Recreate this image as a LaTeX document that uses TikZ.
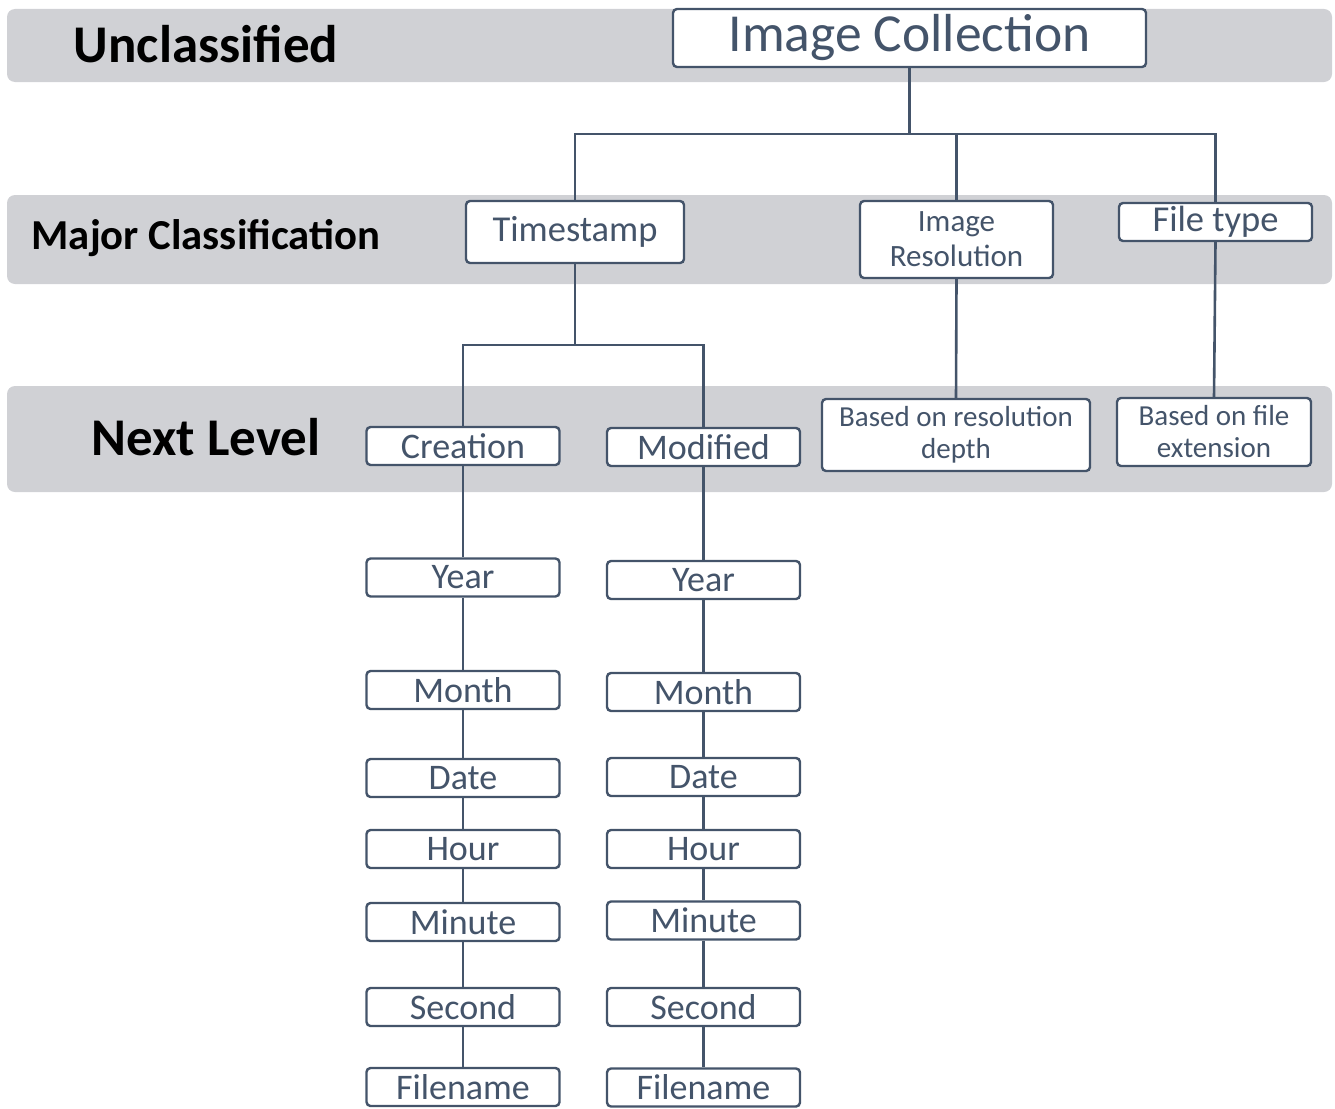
\documentclass[tikz,border=0pt]{standalone}
\usepackage{fontspec}
\setmainfont{Carlito}
\definecolor{band}{RGB}{208,209,213}
\definecolor{ink}{RGB}{68,84,106}
\begin{document}
\begin{tikzpicture}[x=1pt,y=-1pt,
  bandbox/.style={fill=band,draw=none,rounded corners=8pt},
  title/.style={font=\bfseries\fontsize{#1}{#1}\selectfont,text=black,inner sep=0pt},
  cbox/.style={draw=ink,line width=2.4pt,fill=white,rounded corners=4pt,text=ink,inner sep=0pt,align=center},
  conn/.style={draw=ink,line width=2.6pt}
]
\useasboundingbox (0,0) rectangle (1335,1108);
% bands
\fill[bandbox] (7,9) rectangle (1332,82);
\fill[bandbox] (7,195) rectangle (1332,284);
\fill[bandbox] (7,386) rectangle (1332,492);
% titles
\node[title=53] (t1) at (206,44) {Unclassified};
\node[title=42.7] (t2) at (206,238) {Major Classification};
\node[title=53] (t3) at (206,437) {Next Level};
% boxes
\node[cbox,minimum width=473pt,minimum height=58pt,font=\fontsize{53.5}{53.5}\selectfont] (ic) at (909.5,38) {Image Collection};
\node[cbox,minimum width=218pt,minimum height=62pt,font=\fontsize{36.5}{36.5}\selectfont] (ts) at (575,232) {Timestamp};
\node[cbox,minimum width=193pt,minimum height=77pt,font=\fontsize{31}{35}\selectfont] (ir) at (956.5,239.5) {Image\\Resolution};
\node[cbox,minimum width=193pt,minimum height=38pt,font=\fontsize{36.5}{36.5}\selectfont] (ft) at (1215.5,222) {File type};
\node[cbox,minimum width=268pt,minimum height=72pt,font=\fontsize{29}{32}\selectfont] (br) at (956,435) {Based on resolution\\depth};
\node[cbox,minimum width=194pt,minimum height=68pt,font=\fontsize{29}{32}\selectfont] (bf) at (1214,432) {Based on file\\extension};
\tikzset{leaf/.style={cbox,minimum width=193pt,minimum height=38pt,font=\fontsize{36}{36}\selectfont}}
\node[leaf] (cr) at (463,446) {Creation};
\node[leaf] (md) at (703.5,447) {Modified};
\node[leaf] (y1) at (463,577.5) {Year};
\node[leaf] (y2) at (703.5,580) {Year};
\node[leaf] (m1) at (463,690) {Month};
\node[leaf] (m2) at (703.5,692) {Month};
\node[leaf] (d1) at (463,778) {Date};
\node[leaf] (d2) at (703.5,777) {Date};
\node[leaf] (h1) at (463,849) {Hour};
\node[leaf] (h2) at (703.5,849) {Hour};
\node[leaf] (n1) at (463,922) {Minute};
\node[leaf] (n2) at (703.5,920.5) {Minute};
\node[leaf] (s1) at (463,1007) {Second};
\node[leaf] (s2) at (703.5,1007) {Second};
\node[leaf] (f1) at (463,1087) {Filename};
\node[leaf] (f2) at (703.5,1087.5) {Filename};
% junctions
\coordinate (j1) at (909.5,134);
\coordinate (j2) at (575,345);
% connectors
\draw[conn] (ic.south) -- (j1);
\draw[conn] (j1) -| (ts.north);
\draw[conn] (j1) -| (ir.north);
\draw[conn] (j1) -| (ft.north);
\draw[conn] (ts.south) -- (j2);
\draw[conn] (j2) -| (cr.north);
\draw[conn] (j2) -| (md.north);
\draw[conn] (ir.south) -- (br.north);
\draw[conn] (ft.south) -- (bf.north);
\foreach \a/\b in {cr/y1,y1/m1,m1/d1,d1/h1,h1/n1,n1/s1,s1/f1,md/y2,y2/m2,m2/d2,d2/h2,h2/n2,n2/s2,s2/f2}
  \draw[conn] (\a.south) -- (\b.north);
\end{tikzpicture}
\end{document}
